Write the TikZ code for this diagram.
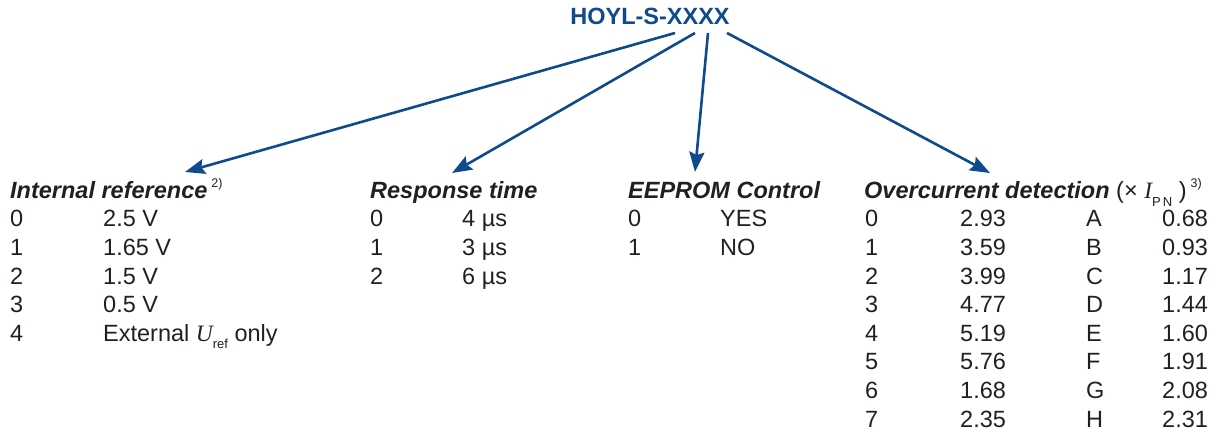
\documentclass[tikz,border=0pt]{standalone}
\usepackage{fontspec}
\setmainfont{Liberation Sans}
\newfontfamily\serifit{Liberation Serif}
\usetikzlibrary{arrows.meta,positioning}

\definecolor{hoylblue}{RGB}{14,74,140}
\definecolor{ink}{RGB}{35,31,32}

\tikzset{
  txt/.style={inner sep=0pt,anchor=base west,text=ink,font=\fontsize{23.5}{28}\selectfont},
  hdr/.style={txt,font=\fontsize{23.5}{28}\selectfont\bfseries\itshape},
  link/.style={draw=hoylblue,line width=2.6pt,-{Stealth[length=20pt,width=15pt,inset=3pt]}}
}

\newcommand{\fnmark}[1]{\,\raisebox{0.5em}{\normalfont\fontsize{12.5}{13}\selectfont #1}}
\newcommand{\Uref}{{\serifit\itshape U}\raisebox{-0.3em}{\fontsize{13}{14}\selectfont ref}}
\newcommand{\Ipn}{{\serifit\itshape I}\raisebox{-0.3em}{\fontsize{13}{14}\selectfont P\,N}}

\begin{document}
\begin{tikzpicture}[x=1pt,y=-1pt]
\useasboundingbox (0,0) rectangle (1224,435);

% part number
\node[inner sep=0pt,anchor=base,text=hoylblue,font=\fontsize{23.5}{28}\selectfont\bfseries] (pn) at (650,25) {HOYL-S-XXXX};

% column headers
\node[hdr] (iref) at (10,199) {Internal reference\fnmark{2)}};
\node[hdr] (resp) at (370,199) {Response time};
\node[hdr] (eep) at (628,199) {EEPROM Control};
\node[hdr] (ocd) at (864,199) {Overcurrent detection {\normalfont (× \Ipn\ )}\fnmark{3)}};

% internal reference
\foreach \d/\v [count=\r from 0] in {0/2.5 V,1/1.65 V,2/1.5 V,3/0.5 V,4/{External \Uref\ only}}{
  \node[txt] (iref\r) at (10,227+28.6*\r) {\d};
  \node[txt] (iref\r v) at (103,227+28.6*\r) {\v};
}

% response time
\foreach \d/\v [count=\r from 0] in {0/4 µs,1/3 µs,2/6 µs}{
  \node[txt] (resp\r) at (370,227+28.6*\r) {\d};
  \node[txt] (resp\r v) at (462,227+28.6*\r) {\v};
}

% eeprom
\foreach \d/\v [count=\r from 0] in {0/YES,1/NO}{
  \node[txt] (eep\r) at (628,227+28.6*\r) {\d};
  \node[txt] (eep\r v) at (720,227+28.6*\r) {\v};
}

% overcurrent
\foreach \d/\a/\l/\b [count=\r from 0] in {0/2.93/A/0.68,1/3.59/B/0.93,2/3.99/C/1.17,3/4.77/D/1.44,
    4/5.19/E/1.60,5/5.76/F/1.91,6/1.68/G/2.08,7/2.35/H/2.31}{
  \node[txt] (ocd\r) at (865,227+28.6*\r) {\d};
  \node[txt] (ocd\r a) at (960,227+28.6*\r) {\a};
  \node[txt] (ocd\r l) at (1086,227+28.6*\r) {\l};
  \node[txt] (ocd\r b) at (1162,227+28.6*\r) {\b};
}

% arrows
\coordinate (s1) at (675,33);
\coordinate (s2) at (695,33);
\coordinate (s3) at (708,33);
\coordinate (s4) at (727,33);
\coordinate (e1) at (185,172);
\coordinate (e2) at (452,173);
\coordinate (e3) at (695,172);
\coordinate (e4) at (990,173);
\draw[link] (s1) -- (e1);
\draw[link] (s2) -- (e2);
\draw[link] (s3) -- (e3);
\draw[link] (s4) -- (e4);
\end{tikzpicture}
\end{document}
